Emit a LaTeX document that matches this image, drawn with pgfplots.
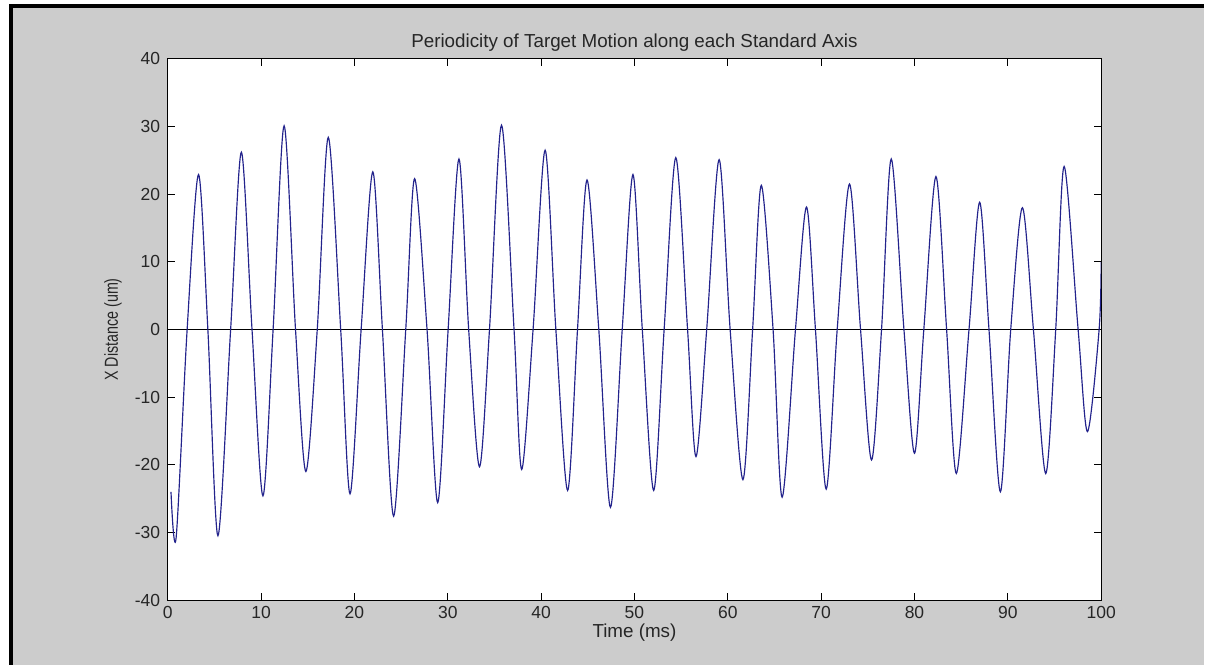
\documentclass[border=0pt]{standalone}
\usepackage{pgfplots}
\pgfplotsset{compat=1.18}
\usepackage{fontspec}
\setmainfont{Liberation Sans}
\definecolor{figgray}{RGB}{204,204,204}
\definecolor{sig}{RGB}{35,35,140}
\begin{document}
\begin{tikzpicture}
\fill[white] (0,0) rectangle (723.6pt,399.6pt);
\fill[figgray] (6.6pt,0) rectangle (723.6pt,395.7pt);
\draw[black, line width=2.4pt] (6.6pt,0) -- (6.6pt,395.7pt) -- (723.6pt,395.7pt);
\begin{axis}[
  at={(100.8pt,39pt)}, anchor=south west,
  scale only axis, width=561pt, height=325.2pt,
  xmin=0, xmax=100, ymin=-40, ymax=40,
  xtick={0,10,...,100}, ytick={-40,-30,...,40},
  tick align=inside, major tick length=4.2pt,
  xtick pos=both, ytick pos=both,
  axis line style={black, line width=0.6pt},
  every tick/.style={black, line width=0.6pt},
  axis background/.style={fill=white},
  /pgf/number format/assume math mode=true,
  tick label style={font=\fontsize{10.5}{12}\selectfont, text=black!85},
  xticklabel style={yshift=-0.5pt},
  yticklabel style={xshift=-1pt},
  title={Periodicity of Target Motion along each Standard Axis},
  title style={font=\fontsize{11.3}{13}\selectfont, text=black!85, at={(0.5,1)}, anchor=south, yshift=-5pt},
  xlabel={Time (ms)},
  xlabel style={font=\fontsize{11.3}{13}\selectfont, text=black!85, yshift=4pt},
  ylabel={\scalebox{0.76}[1]{X Distance (um)}},
  ylabel style={font=\fontsize{11.3}{13}\selectfont, text=black!85, yshift=1pt},
  clip=true,
]
\addplot[black, line width=0.6pt] coordinates {(0,0) (100,0)};
\addplot[sig, line width=0.7pt, smooth, tension=0.5] coordinates {
(0.35,-24) (0.9,-30.8) (2.08,0) (3.3,22.9) (4.3,0) (5.38,-30.5)
(6.74,0) (7.89,26.2) (9.03,0) (10.2,-24.6) (11.29,0) (12.47,30.1) (13.69,0)
(14.8,-21) (16.02,0) (17.2,28.4) (18.53,0) (19.53,-24.3) (20.72,0) (21.97,23.3)
(23.0,0) (24.2,-27.6) (25.5,0) (26.45,22.3) (27.78,0) (28.92,-25.6) (30.04,0)
(31.2,25.2) (32.24,0) (33.4,-20.3) (34.47,0) (35.76,30.2) (37.1,0) (37.92,-20.7)
(39.14,0) (40.43,26.5) (41.58,0) (42.84,-23.8) (43.9,0) (44.92,22.1) (46.18,0) (47.43,-26.3)
(48.69,0) (49.84,22.9) (50.84,0) (52.06,-23.8) (53.18,0) (54.43,25.4) (55.69,0) (56.59,-18.8)
(57.74,0) (59.07,25.1) (60.25,0) (61.62,-22.2) (62.66,0) (63.59,21.3) (64.85,0) (65.82,-24.8)
(67.25,0) (68.43,18.1) (69.39,0) (70.54,-23.6) (71.72,0) (73.04,21.5) (74.22,0) (75.4,-19.3)
(76.47,0) (77.51,25.2) (78.87,0) (80.0,-18.3) (81.0,0) (82.3,22.6) (83.44,0)
(84.48,-21.3) (85.84,0) (86.98,18.8) (87.98,0) (89.2,-24) (90.31,0) (91.56,18.0)
(92.74,0) (94.06,-21.3) (95.13,0) (96.03,24.1) (97.53,0) (98.53,-15.1) (99.78,0) (100,10)
};
\end{axis}
\end{tikzpicture}
\end{document}
